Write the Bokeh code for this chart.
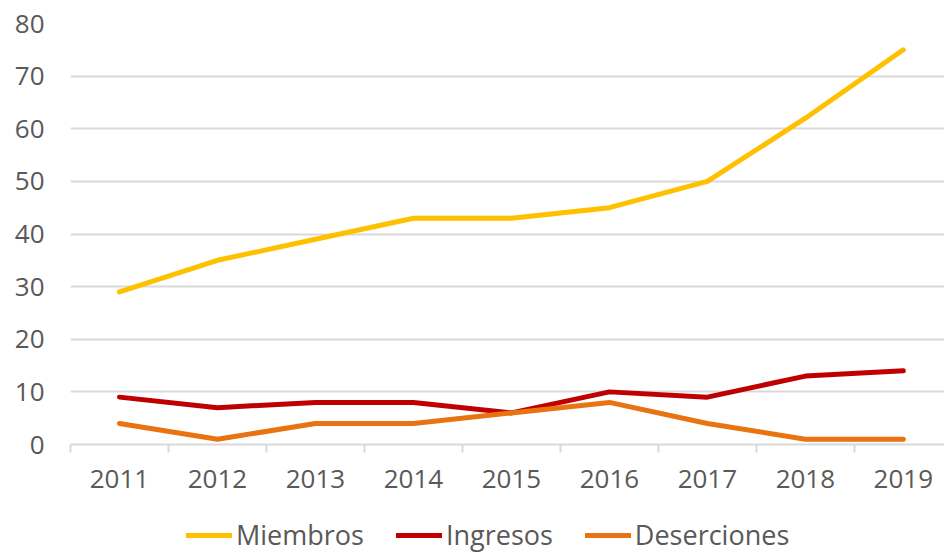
from bokeh.plotting import figure
from bokeh.models import Range1d, FixedTicker, Legend, LegendItem
from bokeh.layouts import column
from bokeh.embed import file_html
from bokeh.resources import INLINE

years = ["2011", "2012", "2013", "2014", "2015", "2016", "2017", "2018", "2019"]
miembros = [29, 35, 39, 43, 43, 45, 50, 62, 75]
ingresos = [9, 7, 8, 8, 6, 10, 9, 13, 14]
deserciones = [4, 1, 4, 4, 6, 8, 4, 1, 1]
series_names = ["Miembros", "Ingresos", "Deserciones"]
colors = ["#FFC000", "#C00000", "#E97311"]
y_ticks = [0, 10, 20, 30, 40, 50, 60, 70, 80]

xs = list(range(1, len(years) + 1))
series = [miembros, ingresos, deserciones]
FONT = "Open Sans"
TXT = "#595959"

p = figure(width=944, height=505, output_backend="svg", toolbar_location=None,
           x_range=Range1d(0.5, 9.42), y_range=Range1d(0, 80),
           min_border_left=70, min_border_right=0, min_border_top=23, min_border_bottom=61)
p.outline_line_color = None
p.background_fill_color = "white"
p.border_fill_color = "white"

for vals, c in zip(series, colors):
    p.line(xs, vals, line_color=c, line_width=5, line_join="round", line_cap="round")

p.xgrid.grid_line_color = None
p.ygrid.grid_line_color = "#D9D9D9"
p.ygrid.grid_line_width = 2

p.yaxis.ticker = FixedTicker(ticks=y_ticks)
p.yaxis.axis_line_color = None
p.yaxis.major_tick_line_color = None
p.yaxis.minor_tick_line_color = None
p.yaxis.major_label_standoff = 20
p.yaxis.major_label_text_font = FONT
p.yaxis.major_label_text_font_size = "26px"
p.yaxis.major_label_text_color = TXT

p.xaxis.ticker = FixedTicker(ticks=xs, minor_ticks=[x - 0.5 for x in xs] + [len(xs) + 0.5])
p.xaxis.major_label_overrides = {x: y for x, y in zip(xs, years)}
p.xaxis.axis_line_color = "#D9D9D9"
p.xaxis.axis_line_width = 2
p.xaxis.major_tick_line_color = None
p.xaxis.minor_tick_line_color = "#D9D9D9"
p.xaxis.minor_tick_line_width = 2
p.xaxis.minor_tick_in = 0
p.xaxis.minor_tick_out = 8
p.xaxis.major_label_standoff = 17
p.xaxis.major_label_text_font = FONT
p.xaxis.major_label_text_font_size = "26px"
p.xaxis.major_label_text_color = TXT

# legend strip (its lines lie outside its visible range; only the legend shows)
p2 = figure(width=944, height=48, output_backend="svg", toolbar_location=None,
            x_range=Range1d(-20, -19), y_range=Range1d(-20, -19),
            min_border_left=0, min_border_right=0, min_border_top=0, min_border_bottom=0)
p2.axis.visible = False
p2.grid.grid_line_color = None
p2.outline_line_color = None
items = []
for name, vals, c in zip(series_names, series, colors):
    r = p2.line(xs, vals, line_color=c, line_width=5, line_cap="round")
    items.append(LegendItem(label=name, renderers=[r]))
legend = Legend(items=items, orientation="horizontal", location=(116, 0),
                label_text_font=FONT, label_text_font_size="27px", label_text_color=TXT,
                glyph_width=46, glyph_height=20, label_standoff=4, spacing=32,
                border_line_color=None, background_fill_alpha=0, padding=0, margin=0)
p2.add_layout(legend, "center")

layout = column(p, p2, spacing=0)
open("out.html", "w").write(file_html(layout, INLINE))
